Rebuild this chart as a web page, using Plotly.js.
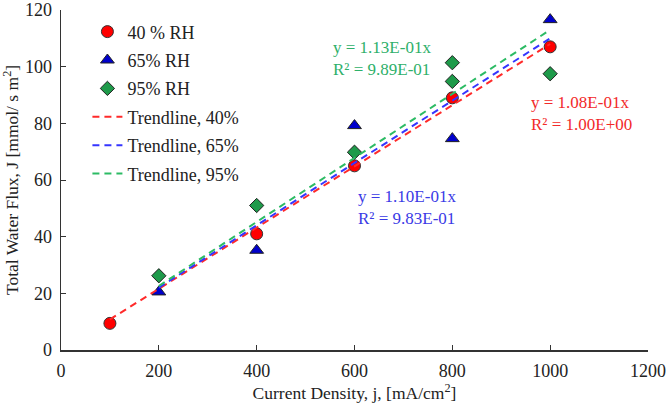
<!DOCTYPE html>
<html>
<head>
<meta charset="utf-8">
<script src="https://cdn.plot.ly/plotly-3.0.1.min.js"></script>
<style>html,body{margin:0;padding:0;background:#fff;}#chart{width:666px;height:404px;}</style>
</head>
<body>
<div id="chart"></div>
<script>
// Measured data
const x40 = [100, 400, 600, 800, 1000];
const y40 = [9.4, 41.0, 65.0, 89.0, 107.0];
const x65 = [200, 400, 600, 800, 1000];
const y65 = [20.5, 35.2, 79.2, 74.6, 116.6];
const x95 = [200, 400, 600, 800, 800, 1000];
const y95 = [26.2, 51.0, 69.8, 94.8, 101.4, 97.5];
// Trendline endpoints (y = slope * x)
const trend40X = [100, 1000];
const trend40Y = [10.8, 108];
const trend65X = [200, 1000];
const trend65Y = [22.0, 110];
const trend95X = [200, 1000];
const trend95Y = [22.6, 113];
const xTicks = [0, 200, 400, 600, 800, 1000, 1200];
const yTicks = [0, 20, 40, 60, 80, 100, 120];

const FONT = 'Liberation Serif, Times New Roman, serif';
const RED = '#ff0000', BLUE = '#0000cc', GREEN = '#1e9a4a';
const TRED = '#ff2a2a', TBLUE = '#3535ff', TGREEN = '#2cbb64';

const traces = [
  {x: x40, y: y40, mode: 'markers', name: '40 % RH', legendgroup: 'a',
   marker: {symbol: 'circle', size: 12, color: RED, line: {color: '#333', width: 1}}},
  {x: x65, y: y65, mode: 'markers', name: '65% RH', legendgroup: 'b',
   marker: {symbol: 'triangle-up', size: 12, color: BLUE, line: {color: '#222', width: 1}}},
  {x: x95, y: y95, mode: 'markers', name: '95% RH', legendgroup: 'c',
   marker: {symbol: 'diamond', size: 11, color: GREEN, line: {color: '#222', width: 1}}},
  {x: trend40X, y: trend40Y, mode: 'lines', name: 'Trendline, 40%', legendgroup: 'd',
   line: {color: TRED, width: 2, dash: '7px,5px'}},
  {x: trend65X, y: trend65Y, mode: 'lines', name: 'Trendline, 65%', legendgroup: 'e',
   line: {color: TBLUE, width: 2, dash: '7px,5px'}},
  {x: trend95X, y: trend95Y, mode: 'lines', name: 'Trendline, 95%', legendgroup: 'f',
   line: {color: TGREEN, width: 2, dash: '7px,5px'}}
];

const layout = {
  width: 666, height: 404,
  margin: {l: 61, r: 18, t: 10, b: 54},
  paper_bgcolor: '#fff', plot_bgcolor: '#fff',
  font: {family: FONT, size: 18, color: '#222'},
  showlegend: true,
  legend: {x: 0.045, y: 0.99, xanchor: 'left', yanchor: 'top', bgcolor: 'rgba(0,0,0,0)',
           font: {family: FONT, size: 18, color: '#222'}, tracegroupgap: 2, traceorder: 'grouped'},
  xaxis: {range: [0, 1200], tickvals: xTicks, ticktext: xTicks.map(String),
          showgrid: false, zeroline: false, showline: true, linecolor: '#333', linewidth: 1.5,
          ticks: 'inside', ticklen: 5, tickcolor: '#333', ticklabeloverflow: 'allow', ticklabelstandoff: 4,
          tickfont: {family: FONT, size: 18, color: '#222'},
          title: {text: 'Current Density, j, [mA/cm<sup>2</sup>]', font: {family: FONT, size: 17.5, color: '#222'}, standoff: 2}},
  yaxis: {range: [0, 120], tickvals: yTicks, ticktext: yTicks.map(String),
          showgrid: false, zeroline: false, showline: true, linecolor: '#333', linewidth: 1.5,
          ticks: 'inside', ticklen: 5, tickcolor: '#333', ticklabeloverflow: 'allow', ticklabelstandoff: 4,
          tickfont: {family: FONT, size: 18, color: '#222'},
          title: {text: 'Total Water Flux, J [mmol/ s m<sup>2</sup>]', font: {family: FONT, size: 17.5, color: '#222'}, standoff: 4}},
  annotations: [
    {x: 657, y: 102.9, xref: 'x', yref: 'y', showarrow: false, align: 'left',
     text: 'y = 1.13E-01x<br>R² = 9.89E-01', font: {family: FONT, size: 17, color: '#2eb06a'}},
    {x: 1065, y: 83.4, xref: 'x', yref: 'y', showarrow: false, align: 'left',
     text: 'y = 1.08E-01x<br>R² = 1.00E+00', font: {family: FONT, size: 17, color: '#f22a2a'}},
    {x: 707, y: 50.2, xref: 'x', yref: 'y', showarrow: false, align: 'left',
     text: 'y = 1.10E-01x<br>R² = 9.83E-01', font: {family: FONT, size: 17, color: '#3a3ae6'}}
  ]
};

Plotly.newPlot('chart', traces, layout, {displayModeBar: false, staticPlot: true});
</script>
</body>
</html>
